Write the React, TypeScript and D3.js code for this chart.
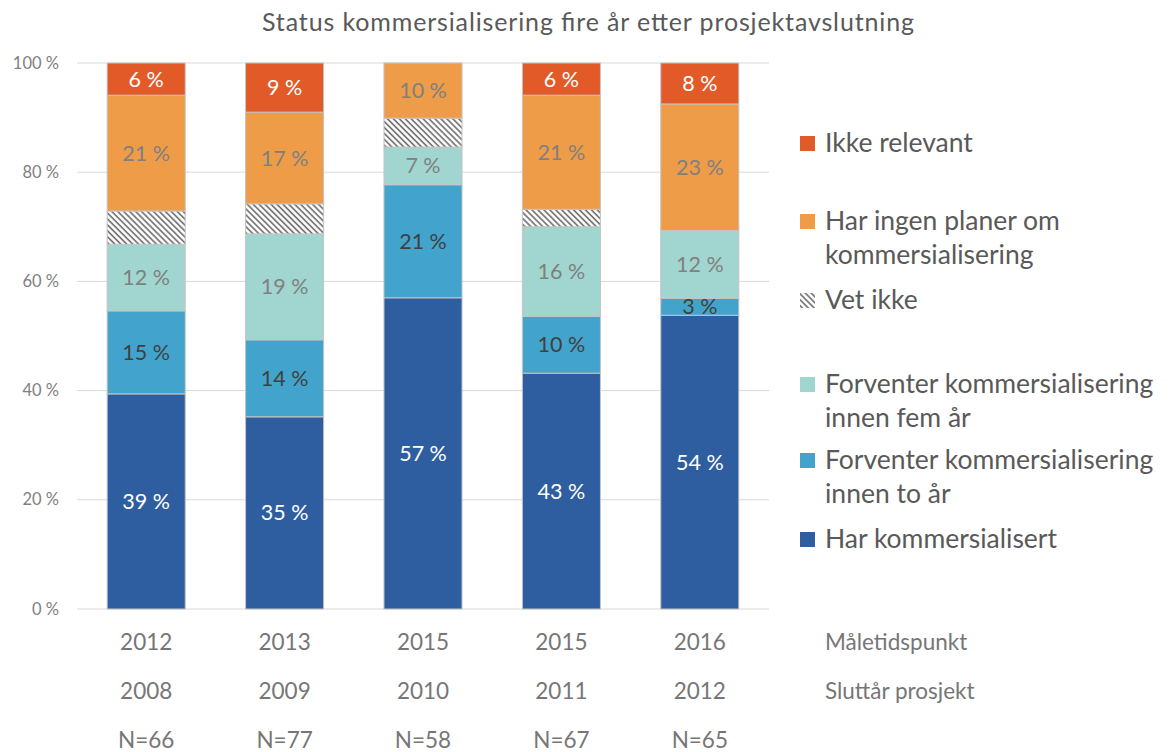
import { useEffect, useRef } from 'react';
import * as d3 from 'd3';

// kategorier (måletidspunkt), sluttår og antall
const maaletidspunkt = ['2012', '2013', '2015', '2015', '2016'];
const sluttaar = ['2008', '2009', '2010', '2011', '2012'];
const antall = ['N=66', 'N=77', 'N=58', 'N=67', 'N=65'];

// serier, nederst til øverst (prosent)
const harKommersialisert = [39.4, 35.2, 57.0, 43.2, 53.8];
const innenToAar = [15.2, 14.1, 20.7, 10.4, 3.1];
const innenFemAar = [12.2, 19.4, 6.9, 16.4, 12.4];
const vetIkke = [6.1, 5.5, 5.3, 3.2, 0];
const ingenPlaner = [21.2, 16.8, 10.1, 20.9, 23.2];
const ikkeRelevant = [5.9, 9.0, 0, 5.9, 7.5];

const yTicks = [0, 20, 40, 60, 80, 100];

const series = [
  { key: 'har', values: harKommersialisert, color: '#2E5E9F', label: '#ffffff', legend: ['Har kommersialisert'] },
  { key: 'to', values: innenToAar, color: '#42A4CC', label: '#404040', legend: ['Forventer kommersialisering', 'innen to år'] },
  { key: 'fem', values: innenFemAar, color: '#A0D6CF', label: '#808080', legend: ['Forventer kommersialisering', 'innen fem år'] },
  { key: 'vet', values: vetIkke, color: 'url(#hatch)', label: null, legend: ['Vet ikke'] },
  { key: 'ingen', values: ingenPlaner, color: '#EE9C48', label: '#808080', legend: ['Har ingen planer om', 'kommersialisering'] },
  { key: 'ikke', values: ikkeRelevant, color: '#E35A29', label: '#ffffff', legend: ['Ikke relevant'] },
];

const FONT = 'Lato, "Open Sans", sans-serif';

export default function App() {
  const svgRef = useRef<SVGSVGElement>(null);
  const width = 1170;
  const height = 752;

  useEffect(() => {
    if (!svgRef.current) return;
    const svg = d3.select(svgRef.current);
    svg.selectAll('*').remove();

    const defs = svg.append('defs');
    const pat = defs.append('pattern')
      .attr('id', 'hatch')
      .attr('patternUnits', 'userSpaceOnUse')
      .attr('width', 4.2)
      .attr('height', 4.2)
      .attr('patternTransform', 'rotate(-45)');
    pat.append('rect').attr('width', 4.2).attr('height', 4.2).attr('fill', '#ffffff');
    pat.append('line')
      .attr('x1', 1).attr('y1', 0).attr('x2', 1).attr('y2', 4.2)
      .attr('stroke', '#6b6b6b').attr('stroke-width', 1.6);

    const idx = maaletidspunkt.map((_, i) => String(i));
    const x = d3.scaleBand<string>()
      .domain(idx)
      .range([77, 769])
      .paddingInner(0.436)
      .paddingOuter(0.218);
    const y = d3.scaleLinear().domain([0, 100]).range([609, 63]);

    // tittel
    svg.append('text')
      .attr('x', 588).attr('y', 31)
      .attr('text-anchor', 'middle')
      .attr('font-family', FONT)
      .attr('font-size', 25)
      .attr('textLength', 652)
      .attr('lengthAdjust', 'spacing')
      .attr('fill', '#595959')
      .text('Status kommersialisering fire år etter prosjektavslutning');

    // rutenett og y-akse
    const grid = svg.append('g');
    yTicks.forEach(t => {
      grid.append('line')
        .attr('x1', 77).attr('x2', 769)
        .attr('y1', y(t)).attr('y2', y(t))
        .attr('stroke', '#d9d9d9').attr('stroke-width', 1);
      grid.append('text')
        .attr('x', 59).attr('y', y(t) + 5.5)
        .attr('text-anchor', 'end')
        .attr('font-family', FONT)
        .attr('font-size', 16.5)
        .attr('fill', '#7f7f7f')
        .text(`${t} %`);
    });

    // stablede data
    const rows = idx.map((_, i) => {
      const r: Record<string, number> = {};
      series.forEach(s => { r[s.key] = s.values[i]; });
      return r;
    });
    const stacked = d3.stack<Record<string, number>>().keys(series.map(s => s.key))(rows);

    stacked.forEach((layer, li) => {
      const s = series[li];
      const g = svg.append('g');
      layer.forEach((d, i) => {
        const v = d[1] - d[0];
        if (v <= 0) return;
        g.append('rect')
          .attr('x', x(String(i))!)
          .attr('width', x.bandwidth())
          .attr('y', y(d[1]))
          .attr('height', y(d[0]) - y(d[1]))
          .attr('fill', s.color)
          .attr('stroke', '#c4c4c4')
          .attr('stroke-width', 1);
        if (s.label) {
          g.append('text')
            .attr('x', x(String(i))! + x.bandwidth() / 2)
            .attr('y', (y(d[0]) + y(d[1])) / 2 + 7.5)
            .attr('text-anchor', 'middle')
            .attr('font-family', FONT)
            .attr('font-size', 21.5)
            .attr('fill', s.label)
            .text(`${Math.round(v)} %`);
        }
      });
    });

    // kategorirader under aksen
    const rowsBelow = [
      { labels: maaletidspunkt, y: 650, title: 'Måletidspunkt' },
      { labels: sluttaar, y: 699, title: 'Sluttår prosjekt' },
      { labels: antall, y: 748, title: '' },
    ];
    rowsBelow.forEach(r => {
      r.labels.forEach((l, i) => {
        svg.append('text')
          .attr('x', x(String(i))! + x.bandwidth() / 2)
          .attr('y', r.y)
          .attr('text-anchor', 'middle')
          .attr('font-family', FONT)
          .attr('font-size', 22.5)
          .attr('fill', '#767676')
          .text(l);
      });
      if (r.title) {
        svg.append('text')
          .attr('x', 825).attr('y', r.y)
          .attr('font-family', FONT)
          .attr('font-size', 22.5)
          .attr('fill', '#767676')
          .text(r.title);
      }
    });

    // tegnforklaring
    const legendY = [548, 469, 393, 309, 230, 152];
    const leg = svg.append('g');
    series.forEach((s, i) => {
      const by = legendY[i];
      leg.append('rect')
        .attr('x', 800).attr('y', by - 16)
        .attr('width', 15).attr('height', 15)
        .attr('fill', s.color);
      s.legend.forEach((line, j) => {
        leg.append('text')
          .attr('x', 825).attr('y', by + j * 34)
          .attr('font-family', FONT)
          .attr('font-size', 26.5)
          .attr('fill', '#595959')
          .text(line);
      });
    });
  }, []);

  return (
    <svg
      ref={svgRef}
      width={width}
      height={height}
      style={{ position: 'absolute', left: 0, top: 0, background: '#fff' }}
    />
  );
}
